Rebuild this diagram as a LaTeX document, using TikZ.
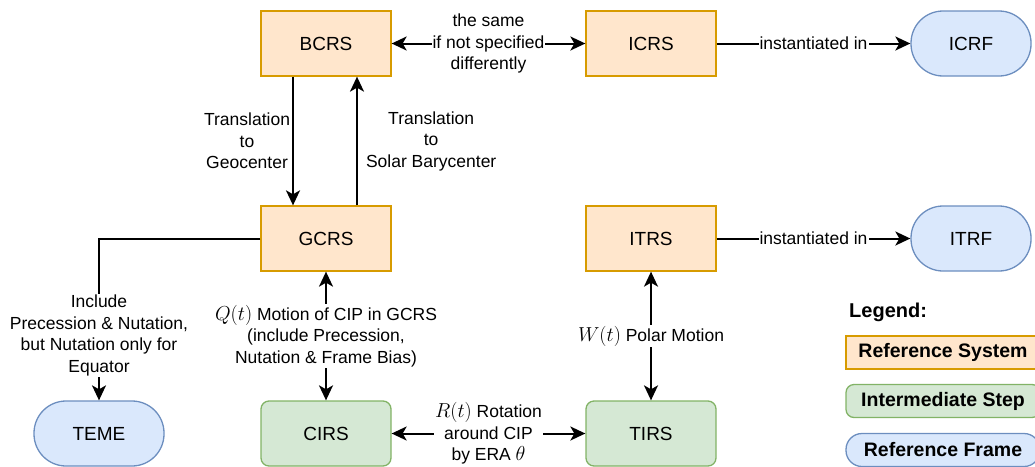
\documentclass[tikz,border=0pt]{standalone}
\usepackage{fontspec}
\usepackage{graphicx}
\setmainfont{Liberation Sans}
\usetikzlibrary{arrows.meta}

\definecolor{sysfill}{HTML}{FFE6CC}
\definecolor{sysline}{HTML}{D79B00}
\definecolor{stepfill}{HTML}{D5E8D4}
\definecolor{stepline}{HTML}{82B366}
\definecolor{framefill}{HTML}{DAE8FC}
\definecolor{frameline}{HTML}{6C8EBF}

\newcommand{\boxfont}{\fontsize{19}{23}\selectfont}
\newcommand{\lblfont}{\fontsize{17.5}{21.5}\selectfont}
\newcommand{\legfont}{\fontsize{19.5}{23}\selectfont\bfseries}
% symbols of the transformations, math font slightly enlarged
\newcommand{\trsym}[1]{\scalebox{1.17}{$#1$}}

\tikzset{
  sysbox/.style={draw=sysline, fill=sysfill, line width=1.3pt,
    minimum width=130pt, minimum height=65pt, inner sep=0pt, font=\boxfont},
  stepbox/.style={sysbox, draw=stepline, fill=stepfill, rounded corners=8pt},
  framebox/.style={sysbox, draw=frameline, fill=framefill, rounded corners=32pt,
    minimum width=120pt},
  lbl/.style={fill=white, inner sep=1pt, align=center, font=\lblfont},
  freelbl/.style={inner sep=2pt, align=center, font=\lblfont},
  arr/.style={line width=2pt, -{Stealth[length=15pt, width=14pt, inset=4pt]}},
  arrs/.style={line width=2pt, {Stealth[length=15pt, width=14pt, inset=4pt]}-{Stealth[length=15pt, width=14pt, inset=4pt]}},
  legbox/.style={line width=1.3pt, minimum width=194pt, minimum height=33pt,
    inner sep=0pt, font=\legfont},
}

\begin{document}
\begin{tikzpicture}[x=1pt, y=-1pt]
\useasboundingbox (0,0) rectangle (1035,466);

% reference systems
\node[sysbox] (bcrs) at (326,43.5) {BCRS};
\node[sysbox] (icrs) at (651,43.5) {ICRS};
\node[sysbox] (gcrs) at (326,238.5) {GCRS};
\node[sysbox] (itrs) at (651,238.5) {ITRS};

% reference frames
\node[framebox] (icrf) at (971,43.5) {ICRF};
\node[framebox] (itrf) at (971,238.5) {ITRF};
\node[framebox, minimum width=130pt] (teme) at (99,433.5) {TEME};

% intermediate steps
\node[stepbox] (cirs) at (326,433.5) {CIRS};
\node[stepbox] (tirs) at (651,433.5) {TIRS};

% connectors
\draw[arrs] (bcrs) -- node[lbl] {the same\\if not specified\\differently} (icrs);
\draw[arr] (icrs) -- node[lbl] {instantiated in} (icrf);
\draw[arr] (itrs) -- node[lbl] {instantiated in} (itrf);

\draw[arr] ([xshift=-33pt]bcrs.south) -- node[freelbl, midway, left]
  {Translation\\to\\Geocenter} ([xshift=-33pt]gcrs.north);
\draw[arr] ([xshift=31pt]gcrs.north) -- node[freelbl, midway, right, xshift=6pt]
  {Translation\\to\\Solar Barycenter} ([xshift=31pt]bcrs.south);

\draw[arr] (gcrs.west) -| node[lbl, pos=0.8]
  {Include\\Precession \& Nutation,\\but Nutation only for\\Equator} (teme.north);

\draw[arrs] (gcrs) -- node[lbl]
  {\trsym{Q(t)} Motion of CIP in GCRS\\(include Precession,\\Nutation \& Frame Bias)} (cirs);

\draw[arrs] (cirs) -- node[lbl] {\trsym{R(t)} Rotation\\around CIP\\by ERA \trsym{\theta}} (tirs);

\draw[arrs] (itrs) -- node[lbl] {\trsym{W(t)} Polar Motion} (tirs);

% legend
\node[anchor=west, inner sep=0pt, font=\fontsize{20}{24}\selectfont\bfseries]
  (legend) at (849,312) {Legend:};
\node[legbox, draw=sysline, fill=sysfill] (legsys) at (943,352.5) {Reference System};
\node[legbox, draw=stepline, fill=stepfill, rounded corners=8pt] (legstep) at (943,401) {Intermediate Step};
\node[legbox, draw=frameline, fill=framefill, rounded corners=16pt] (legframe) at (943,450) {Reference Frame};
\end{tikzpicture}
\end{document}
